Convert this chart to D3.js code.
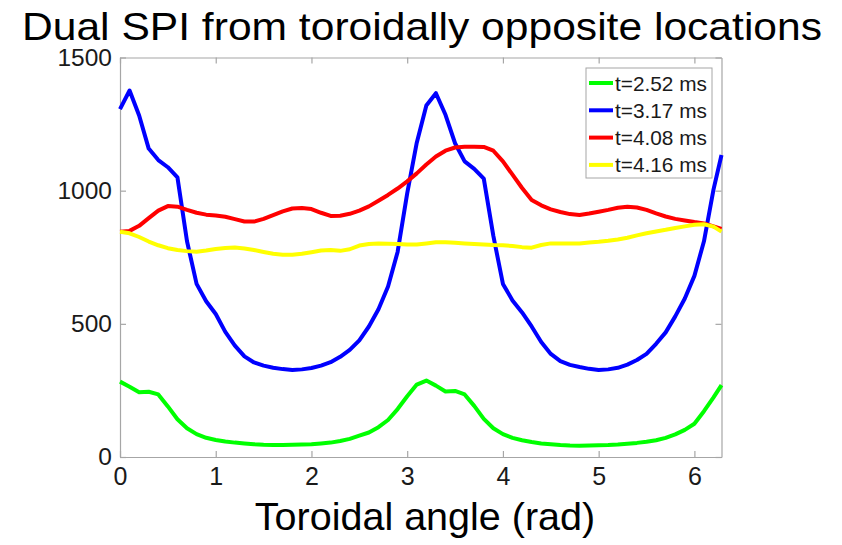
<!DOCTYPE html>
<html>
<head>
<meta charset="utf-8">
<script src="https://cdn.jsdelivr.net/npm/d3@7"></script>
<style>
  html, body { margin: 0; padding: 0; background: #fff; }
  svg { display: block; font-family: "Liberation Sans", Arial, Helvetica, sans-serif; }
</style>
</head>
<body>
<svg id="chart" width="842" height="545"></svg>
<script>
// Toroidal angle samples (rad)
const angle = [0, 0.1, 0.2, 0.3, 0.4, 0.5, 0.6, 0.7, 0.8, 0.9,
  1.0, 1.1, 1.2, 1.3, 1.4, 1.5, 1.6, 1.7, 1.8, 1.9,
  2.0, 2.1, 2.2, 2.3, 2.4, 2.5, 2.6, 2.7, 2.8, 2.9,
  3.0, 3.1, 3.2, 3.3, 3.4, 3.5, 3.6, 3.7, 3.8, 3.9,
  4.0, 4.1, 4.2, 4.3, 4.4, 4.5, 4.6, 4.7, 4.8, 4.9,
  5.0, 5.1, 5.2, 5.3, 5.4, 5.5, 5.6, 5.7, 5.8, 5.9,
  6.0, 6.1, 6.2, 2 * Math.PI];

// t = 2.52 ms
const t252 = [283, 264, 243, 245, 235, 190, 142, 108, 86, 72,
  64, 58, 54, 51, 48, 46, 45, 45, 46, 47,
  48, 51, 54, 60, 68, 80, 92, 112, 139, 180,
  228, 272, 287, 268, 246, 248, 235, 192, 143, 108,
  86, 72, 63, 56, 51, 48, 45, 43, 42, 43,
  44, 45, 47, 50, 53, 57, 63, 72, 85, 102,
  125, 172, 224, 270];

// t = 3.17 ms
const t317 = [1306, 1376, 1282, 1158, 1115, 1088, 1050, 810, 650, 585,
  537, 470, 418, 378, 355, 343, 335, 330, 327, 329,
  334, 343, 356, 376, 402, 438, 490, 555, 640, 770,
  990, 1180, 1320, 1366, 1285, 1178, 1110, 1082, 1045, 830,
  650, 588, 543, 490, 432, 387, 360, 346, 338, 331,
  327, 329, 335, 347, 364, 387, 425, 468, 528, 595,
  680, 810, 1005, 1134];

// t = 4.08 ms
const t408 = [846, 849, 868, 897, 925, 942, 940, 928, 917, 910,
  907, 902, 893, 884, 884, 894, 908, 922, 933, 935,
  931, 917, 905, 906, 913, 925, 941, 962, 984, 1008,
  1035, 1065, 1098, 1128, 1150, 1162, 1165, 1165, 1164, 1150,
  1110, 1060, 1010, 965, 945, 930, 920, 912, 909, 914,
  921, 928, 936, 940, 937, 928, 915, 903, 894, 888,
  882, 877, 866, 856];

// t = 4.16 ms
const t416 = [846, 840, 826, 809, 795, 784, 777, 773, 771, 775,
  781, 785, 787, 783, 777, 770, 763, 759, 759, 763,
  769, 775, 777, 774, 780, 794, 800, 802, 801, 800,
  798, 798, 802, 806, 806, 804, 802, 800, 798, 796,
  795, 792, 788, 786, 796, 802, 802, 802, 802, 805,
  808, 812, 817, 823, 832, 840, 847, 853, 860, 866,
  872, 874, 865, 846];

const seriesNames = ["t=2.52 ms", "t=3.17 ms", "t=4.08 ms", "t=4.16 ms"];
const seriesValues = [t252, t317, t408, t416];
const seriesColors = ["#00ff00", "#0000ff", "#ff0000", "#ffff00"];

const xTicks = [0, 1, 2, 3, 4, 5, 6];
const yTicks = [0, 500, 1000, 1500];

const titleText = "Dual SPI from toroidally opposite locations";
const xLabelText = "Toroidal angle (rad)";

// Layout
const plot = { left: 120, right: 721.5, top: 57.5, bottom: 457 };
const axisGray = "#a6a6a6";
const textColor = "#1a1a1a";

const svg = d3.select("#chart");

const x = d3.scaleLinear().domain([0, 2 * Math.PI]).range([plot.left, plot.right]);
const y = d3.scaleLinear().domain([0, 1500]).range([plot.bottom, plot.top]);

// Plot background
svg.append("rect")
  .attr("x", plot.left).attr("y", plot.top)
  .attr("width", plot.right - plot.left).attr("height", plot.bottom - plot.top)
  .attr("fill", "#fff");

function styleAxis(g, fontSize) {
  g.select(".domain").attr("stroke", axisGray).attr("stroke-width", 1.2);
  g.selectAll(".tick line").attr("stroke", axisGray).attr("stroke-width", 1.2);
  g.selectAll(".tick text")
    .attr("fill", textColor)
    .attr("font-size", fontSize)
    .attr("font-family", "Liberation Sans, Arial, sans-serif");
}

// Bottom axis with labels, ticks pointing inward
const gx = svg.append("g")
  .attr("transform", `translate(0,${plot.bottom})`)
  .call(d3.axisBottom(x).tickValues(xTicks).tickFormat(d3.format("d"))
    .tickSizeInner(-6).tickSizeOuter(0).tickPadding(10));
styleAxis(gx, 25);

// Left axis with labels
const gy = svg.append("g")
  .attr("transform", `translate(${plot.left},0)`)
  .call(d3.axisLeft(y).tickValues(yTicks).tickFormat(d3.format("d"))
    .tickSizeInner(-6).tickSizeOuter(0).tickPadding(8));
styleAxis(gy, 24.5);

// Mirrored top and right axes (ticks only)
const gxTop = svg.append("g")
  .attr("transform", `translate(0,${plot.top})`)
  .call(d3.axisTop(x).tickValues(xTicks).tickFormat("")
    .tickSizeInner(-6).tickSizeOuter(0));
styleAxis(gxTop, 0);

const gyRight = svg.append("g")
  .attr("transform", `translate(${plot.right},0)`)
  .call(d3.axisRight(y).tickValues(yTicks).tickFormat("")
    .tickSizeInner(-6).tickSizeOuter(0));
styleAxis(gyRight, 0);

// Series lines
const line = d3.line()
  .x((d, i) => x(angle[i]))
  .y(d => y(d));

svg.append("g").selectAll("path.series")
  .data(seriesValues)
  .join("path")
  .attr("class", "series")
  .attr("d", d => line(d))
  .attr("fill", "none")
  .attr("stroke", (d, i) => seriesColors[i])
  .attr("stroke-width", 4)
  .attr("stroke-linejoin", "round")
  .attr("stroke-linecap", "butt");

// Legend
const legend = { x: 586, y: 68, w: 126, h: 110, rowY: 83, rowGap: 27.3 };
const lg = svg.append("g");
lg.append("rect")
  .attr("x", legend.x).attr("y", legend.y)
  .attr("width", legend.w).attr("height", legend.h)
  .attr("fill", "#fff").attr("stroke", axisGray).attr("stroke-width", 1);

const rows = lg.selectAll("g.row")
  .data(seriesNames)
  .join("g")
  .attr("class", "row")
  .attr("transform", (d, i) => `translate(0,${legend.rowY + i * legend.rowGap})`);

rows.append("line")
  .attr("x1", legend.x + 3).attr("x2", legend.x + 27)
  .attr("y1", 0).attr("y2", 0)
  .attr("stroke", (d, i) => seriesColors[i])
  .attr("stroke-width", 4);

rows.append("text")
  .attr("x", legend.x + 29)
  .attr("y", 0)
  .attr("dy", "0.36em")
  .attr("font-size", 20.8)
  .attr("fill", textColor)
  .text(d => d);

// Title
svg.append("text")
  .attr("x", 422).attr("y", 40)
  .attr("text-anchor", "middle")
  .attr("font-size", 39)
  .attr("fill", "#000")
  .attr("textLength", 800)
  .attr("lengthAdjust", "spacingAndGlyphs")
  .text(titleText);

// X axis label
svg.append("text")
  .attr("x", 425).attr("y", 530)
  .attr("text-anchor", "middle")
  .attr("font-size", 39.5)
  .attr("fill", "#000")
  .text(xLabelText);
</script>
</body>
</html>
